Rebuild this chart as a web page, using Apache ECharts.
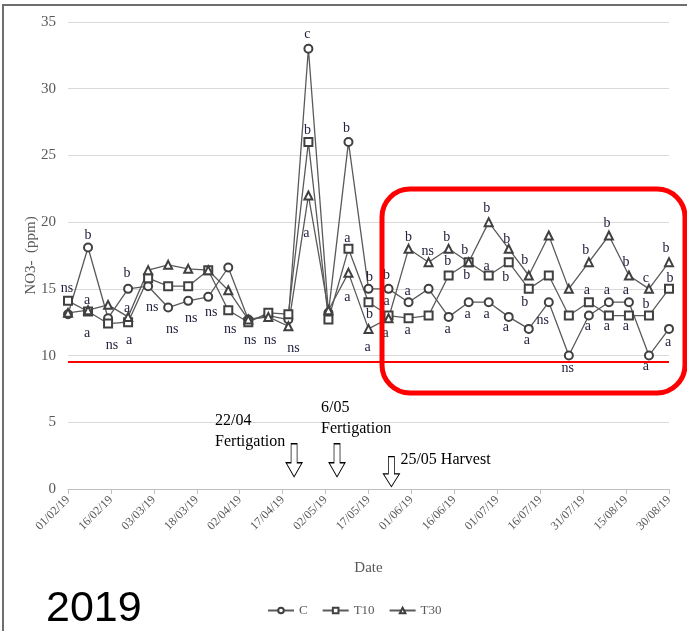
<!DOCTYPE html>
<html>
<head>
<meta charset="utf-8">
<title>NO3- 2019</title>
<script src="https://cdn.jsdelivr.net/npm/echarts@6.0.0/dist/echarts.min.js"></script>
<style>
  html, body { margin: 0; padding: 0; background: #fff; }
  #main { width: 687px; height: 631px; }
</style>
</head>
<body>
<div id="main"></div>
<script>
// weekly sampling dates, 2019
var sampleDates = ['2019-02-01', '2019-02-08', '2019-02-15', '2019-02-22', '2019-03-01', '2019-03-08',
    '2019-03-15', '2019-03-22', '2019-03-29', '2019-04-05', '2019-04-12', '2019-04-19', '2019-04-26',
    '2019-05-03', '2019-05-10', '2019-05-17', '2019-05-24', '2019-05-31', '2019-06-07', '2019-06-14',
    '2019-06-21', '2019-06-28', '2019-07-05', '2019-07-12', '2019-07-19', '2019-07-26', '2019-08-02',
    '2019-08-09', '2019-08-16', '2019-08-23', '2019-08-30'];

// NO3- (ppm)
var valC   = [13.1, 18.1, 12.8, 15.0, 15.2, 13.6, 14.1, 14.4, 16.6, 12.7, 13.0, 12.7, 33.0, 13.2, 26.0, 15.0,
              15.0, 14.0, 15.0, 12.9, 14.0, 14.0, 12.9, 12.0, 14.0, 10.0, 13.0, 14.0, 14.0, 10.0, 12.0];
var valT10 = [14.1, 13.3, 12.4, 12.5, 15.8, 15.2, 15.2, 16.4, 13.4, 12.5, 13.2, 13.1, 26.0, 12.7, 18.0, 14.0,
              13.0, 12.8, 13.0, 16.0, 17.0, 16.0, 17.0, 15.0, 16.0, 13.0, 14.0, 13.0, 13.0, 13.0, 15.0];
var valT30 = [13.2, 13.4, 13.8, 12.9, 16.4, 16.8, 16.5, 16.4, 14.9, 12.7, 12.9, 12.2, 22.0, 13.4, 16.2, 12.0,
              12.8, 18.0, 17.0, 18.0, 17.0, 20.0, 18.0, 16.0, 19.0, 15.0, 17.0, 19.0, 16.0, 15.0, 17.0];

// significance letters
var letC   = [null, 'b', null, 'b', 'ns', 'ns', 'ns', 'ns', null, null, null, null, 'c', null, 'b', 'b',
              'b', 'a', null, 'a', 'a', 'a', 'a', 'a', 'ns', 'ns', 'a', 'a', 'a', 'a', 'a'];
var letT10 = ['ns', 'a', 'ns', 'a', null, null, null, null, 'ns', 'ns', null, null, 'b', null, 'a', 'b',
              'a', 'a', null, 'b', 'b', 'a', 'b', 'b', null, null, 'a', 'a', 'a', 'b', 'b'];
var letT30 = [null, 'a', null, 'a', null, null, null, null, null, null, 'ns', 'ns', 'a', null, 'a', 'a',
              'a', 'b', 'ns', 'b', 'b', 'b', 'b', 'b', null, null, 'b', 'b', 'b', 'c', 'b'];

var threshold = 9.5;

var events = [
    { date: '2019-04-21', y: 2.15, text: '22/04\nFertigation' },
    { date: '2019-05-06', y: 2.15, text: '6/05\nFertigation' },
    { date: '2019-05-25', y: 1.3, text: '25/05 Harvest' }
];

// letter placement around each marker (px) - layout only
var offC = [null, [0, -12], null, [-1, -16], [4, 21], [4, 22], [3, 17], [3, 15], null, null, null, null,
    [-1, -14], null, [-2, -14], [1, -12], [-2, -14], [-1, -11], null, [-1, 12], [-1, 12], [-2, 12],
    [-3, 10], [-2, 11], [-6, 18], [-1, 13], [-1, 11], [-2, -12], [-3, -12], [-3, 11], [-1, 13]];
var offT10 = [[-1, -13], [-1, 22], [4, 22], [1, 18], null, null, null, null, [2, 19], [2, 18], null, null,
    [-1, -12], null, [-1, -11], [1, 12], [-2, -14], [-1, 12], null, [-1, -14], [-2, 13], [-2, -9],
    [-3, 15], [-4, 13], null, null, [-2, -12], [-2, 11], [-3, 11], [-3, -11], [1, -11]];
var offT30 = [null, [-1, -10], null, [-1, -9], null, null, null, null, null, null, [2, 23], [5, 22],
    [-2, 38], null, [-1, 24], [-1, 18], [-3, 15], [0, -12], [-1, -11], [-2, -12], [-4, -12], [-2, -14],
    [-2, -10], [-4, -15], null, null, [-3, -12], [-2, -12], [-3, -13], [-3, -11], [-3, -14]];

var DAY = 86400000;
var START = Date.UTC(2019, 1, 1);

function dayOf(iso) {
    var p = iso.split('-');
    return (Date.UTC(+p[0], +p[1] - 1, +p[2]) - START) / DAY;
}
function pad(n) { return (n < 10 ? '0' : '') + n; }
function fmtDay(d) {
    var t = new Date(START + d * DAY);
    return pad(t.getUTCDate()) + '/' + pad(t.getUTCMonth() + 1) + '/19';
}

var days = sampleDates.map(dayOf);
var serif = 'Liberation Serif';

function build(vals, letters, offs) {
    return vals.map(function (v, i) {
        var item = { value: [days[i], v] };
        if (letters[i]) {
            item.label = {
                show: true,
                formatter: letters[i],
                position: 'inside',
                offset: offs[i] || [0, -12]
            };
        }
        return item;
    });
}

var arrowPath = 'path://M5,0 L11,0 L11,19 L16,19 L8,33 L0,19 L5,19 Z';
var eventOffsets = [[-79, -29], [-16, -42], [9, -12]];

var markers = events.map(function (e, i) {
    return {
        coord: [dayOf(e.date), e.y],
        symbol: arrowPath,
        symbolSize: i === 2 ? [16, 30] : [16, 33],
        itemStyle: { color: '#fff', borderColor: '#000', borderWidth: 1 },
        label: {
            show: true,
            formatter: e.text,
            position: 'inside',
            offset: eventOffsets[i],
            align: 'left',
            verticalAlign: 'middle',
            color: '#000',
            fontFamily: serif,
            fontSize: 16,
            lineHeight: 21
        }
    };
});

function lineSeries(name, symbol, data, extra) {
    var s = {
        name: name,
        type: 'line',
        data: data,
        symbol: symbol,
        symbolSize: 8,
        showAllSymbol: true,
        lineStyle: { color: '#5a5a5a', width: 1.3 },
        itemStyle: { color: '#404040', borderWidth: 0.9 },
        label: {
            color: '#23233f',
            fontFamily: serif,
            fontSize: 14
        },
        emphasis: { disabled: true },
        animation: false
    };
    for (var k in extra) s[k] = extra[k];
    return s;
}

var myChart = echarts.init(document.getElementById('main'));

var option = {
    backgroundColor: '#fff',
    grid: { left: 68, right: 18, top: 22, bottom: 142 },
    legend: {
        data: ['C', 'T10', 'T30'],
        left: 262,
        top: 599,
        itemWidth: 26,
        itemHeight: 7,
        itemGap: 14,
        textStyle: { fontFamily: serif, fontSize: 13, color: '#595959' }
    },
    xAxis: {
        type: 'value',
        min: 0,
        max: 210,
        interval: 15,
        name: 'Date',
        nameLocation: 'middle',
        nameGap: 72,
        nameTextStyle: { fontFamily: serif, fontSize: 15, color: '#595959' },
        axisLine: { lineStyle: { color: '#bfbfbf' } },
        axisTick: { show: true, length: 5, lineStyle: { color: '#bfbfbf' } },
        splitLine: { show: false },
        axisLabel: {
            rotate: 45,
            margin: 9,
            fontFamily: serif,
            fontSize: 12,
            color: '#595959',
            formatter: fmtDay
        }
    },
    yAxis: {
        type: 'value',
        min: 0,
        max: 35,
        interval: 5,
        name: 'NO3-  (ppm)',
        nameLocation: 'middle',
        nameGap: 29,
        nameMoveOverlap: false,
        nameTextStyle: { fontFamily: serif, fontSize: 15, color: '#595959' },
        axisLine: { show: false },
        axisTick: { show: false },
        splitLine: { lineStyle: { color: '#d9d9d9', width: 1 } },
        axisLabel: { fontFamily: serif, fontSize: 15, color: '#595959', margin: 12 }
    },
    series: [
        lineSeries('C', 'emptyCircle', build(valC, letC, offC), {
            z: 3,
            markLine: {
                silent: true,
                symbol: 'none',
                label: { show: false },
                lineStyle: { color: '#ff0000', width: 2, type: 'solid' },
                data: [{ yAxis: threshold }]
            },
            markPoint: { silent: true, data: markers }
        }),
        lineSeries('T10', 'emptyRect', build(valT10, letT10, offT10), { z: 3 }),
        lineSeries('T30', 'emptyTriangle', build(valT30, letT30, offT30), { z: 3 })
    ],
    graphic: [
        {
            type: 'polyline',
            shape: { points: [[3, 631], [3, 5], [687, 5]] },
            style: { stroke: '#6e6e6e', lineWidth: 2, fill: null },
            silent: true
        },
        {
            type: 'rect',
            shape: { x: 382, y: 189, width: 303, height: 204, r: 28 },
            style: { stroke: '#ff0000', lineWidth: 5, fill: null },
            z: 10,
            silent: true
        },
        {
            type: 'text',
            left: 46,
            top: 588,
            style: {
                text: '2019',
                fontFamily: 'Liberation Sans',
                fontSize: 43,
                fill: '#000'
            },
            silent: true
        }
    ]
};

myChart.setOption(option);
</script>
</body>
</html>
